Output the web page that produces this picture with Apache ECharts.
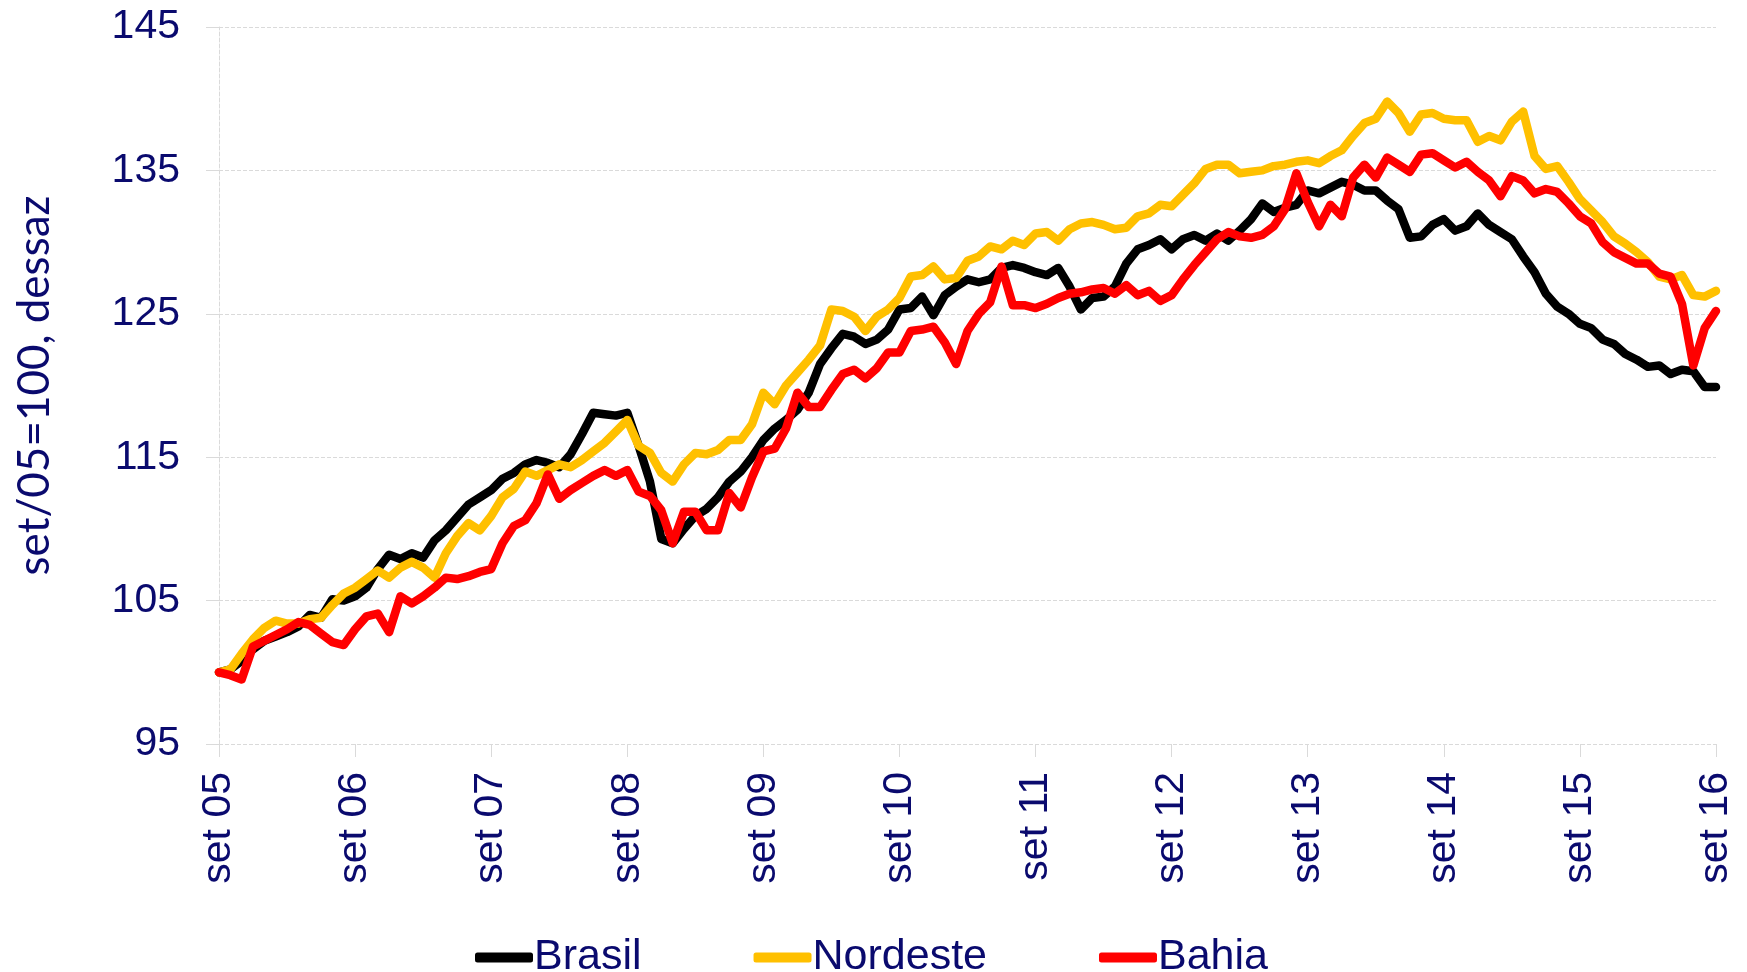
<!DOCTYPE html>
<html>
<head>
<meta charset="utf-8">
<title>Brasil, Nordeste, Bahia</title>
<script src="https://cdn.jsdelivr.net/npm/echarts@6/dist/echarts.min.js"></script>
<style>
  html, body { margin: 0; padding: 0; background: #fff; }
  #chart { width: 1747px; height: 972px; }
</style>
</head>
<body>
<div id="chart"></div>
<script>
// meses (pt) e série de set/05 a set/16
var MONTHS = ['jan', 'fev', 'mar', 'abr', 'mai', 'jun', 'jul', 'ago', 'set', 'out', 'nov', 'dez'];
var START_YEAR = 2005, START_MONTH = 8, N_POINTS = 133;

var Y_TICKS = [95, 105, 115, 125, 135, 145];

var brasil = [
  100.0, 100.2, 100.8, 101.6, 102.2, 102.5, 102.8, 103.2, 104.0, 103.8,
  105.1, 105.0, 105.3, 105.9, 107.2, 108.2, 107.9, 108.3, 108.0, 109.2,
  109.9, 110.8, 111.7, 112.2, 112.7, 113.5, 113.9, 114.5, 114.8, 114.6,
  114.3, 115.2, 116.6, 118.1, 118.0, 117.9, 118.1, 115.8, 113.3, 109.3,
  109.0, 110.0, 110.9, 111.4, 112.2, 113.3, 114.0, 115.0, 116.2, 117.0,
  117.6, 118.3, 119.5, 121.5, 122.6, 123.6, 123.4, 122.9, 123.2, 123.9,
  125.3, 125.4, 126.2, 124.9, 126.3, 126.9, 127.4, 127.2, 127.4, 128.2,
  128.4, 128.2, 127.9, 127.7, 128.2, 126.9, 125.3, 126.1, 126.2, 126.9,
  128.5, 129.5, 129.8, 130.2, 129.5, 130.2, 130.5, 130.1, 130.6, 130.1,
  130.8, 131.6, 132.7, 132.1, 132.4, 132.6, 133.6, 133.4, 133.8, 134.2,
  134.0, 133.6, 133.6, 132.9, 132.3, 130.3, 130.4, 131.2, 131.6, 130.8,
  131.1, 132.0, 131.2, 130.7, 130.2, 129.0, 127.9, 126.4, 125.5, 125.0,
  124.3, 124.0, 123.2, 122.9, 122.2, 121.8, 121.3, 121.4, 120.8, 121.1,
  121.0, 119.9, 119.9
];

var nordeste = [
  100.0, 100.2, 101.3, 102.3, 103.1, 103.6, 103.4, 103.4, 103.7, 103.8,
  104.7, 105.5, 105.9, 106.5, 107.1, 106.6, 107.3, 107.7, 107.3, 106.6,
  108.3, 109.5, 110.4, 109.9, 110.9, 112.2, 112.8, 114.0, 113.7, 114.1,
  114.5, 114.3, 114.8, 115.4, 116.0, 116.8, 117.6, 115.8, 115.3, 113.9,
  113.3, 114.5, 115.3, 115.2, 115.5, 116.2, 116.2, 117.3, 119.5, 118.7,
  120.0, 120.9, 121.8, 122.8, 125.3, 125.2, 124.8, 123.8, 124.8, 125.3,
  126.1, 127.6, 127.7, 128.3, 127.4, 127.5, 128.7, 129.0, 129.7, 129.5,
  130.1, 129.8, 130.6, 130.7, 130.1, 130.9, 131.3, 131.4, 131.2, 130.9,
  131.0, 131.8, 132.0, 132.6, 132.5, 133.3, 134.1, 135.1, 135.4, 135.4,
  134.8, 134.9, 135.0, 135.3, 135.4, 135.6, 135.7, 135.5, 136.0, 136.4,
  137.4, 138.3, 138.6, 139.8, 139.0, 137.7, 138.9, 139.0, 138.6, 138.5,
  138.5, 137.0, 137.4, 137.1, 138.4, 139.1, 136.0, 135.1, 135.3, 134.2,
  133.0, 132.2, 131.4, 130.4, 129.9, 129.3, 128.6, 127.6, 127.4, 127.7,
  126.3, 126.2, 126.6
];

var bahia = [
  100.0, 99.8, 99.5, 101.8, 102.2, 102.6, 103.0, 103.5, 103.3, 102.7,
  102.1, 101.9, 103.0, 103.9, 104.1, 102.8, 105.3, 104.8, 105.3, 105.9,
  106.6, 106.5, 106.7, 107.0, 107.2, 109.0, 110.2, 110.6, 111.8, 113.8,
  112.1, 112.7, 113.2, 113.7, 114.1, 113.7, 114.1, 112.6, 112.3, 111.3,
  109.0, 111.2, 111.2, 109.9, 109.9, 112.5, 111.5, 113.6, 115.4, 115.6,
  117.0, 119.5, 118.5, 118.5, 119.7, 120.8, 121.1, 120.5, 121.2, 122.3,
  122.3, 123.8, 123.9, 124.1, 123.0, 121.5, 123.8, 125.0, 125.8, 128.3,
  125.6, 125.6, 125.4, 125.7, 126.1, 126.4, 126.5, 126.7, 126.8, 126.4,
  127.0, 126.3, 126.6, 125.9, 126.3, 127.4, 128.4, 129.3, 130.2, 130.7,
  130.4, 130.3, 130.5, 131.1, 132.3, 134.8, 132.8, 131.1, 132.6, 131.8,
  134.5, 135.4, 134.5, 135.9, 135.4, 134.9, 136.1, 136.2, 135.7, 135.2,
  135.6, 134.9, 134.3, 133.2, 134.6, 134.3, 133.4, 133.7, 133.5, 132.7,
  131.8, 131.3, 130.0, 129.3, 128.9, 128.5, 128.5, 127.8, 127.6, 125.7,
  121.4, 124.0, 125.2
];

var categories = [];
for (var k = 0; k < N_POINTS; k++) {
  var m = (START_MONTH + k) % 12;
  var y = START_YEAR + Math.floor((START_MONTH + k) / 12);
  categories.push(MONTHS[m] + ' ' + String(y).slice(2));
}

var NAVY = '#0a0a6e';
var GRID_COLOR = '#dadada';

function every_year(idx) {
  return idx % 12 === 0;
}

function make_series(name, data, color) {
  return {
    name: name,
    type: 'line',
    data: data,
    showSymbol: false,
    symbol: 'none',
    lineStyle: { color: color, width: 8.5, cap: 'round', join: 'round' },
    itemStyle: { color: color }
  };
}

var chart = echarts.init(document.getElementById('chart'));
var option = {
  animation: false,
  backgroundColor: '#fff',
  color: ['#000000', '#ffc000', '#ff0000'],
  grid: { left: 219, right: 31, top: 27, bottom: 228, containLabel: false },
  legend: {
    left: 470,
    top: 931,
    itemGap: 112,
    itemWidth: 58,
    itemHeight: 10,
    icon: 'roundRect',
    textStyle: {
      color: NAVY,
      fontFamily: 'Liberation Sans',
      fontSize: 43,
      lineHeight: 43,
      padding: [0, 0, 0, -4]
    },
    data: ['Brasil', 'Nordeste', 'Bahia']
  },
  xAxis: {
    type: 'category',
    data: categories,
    boundaryGap: false,
    axisLine: { show: false },
    axisTick: { show: true, interval: every_year, length: 13, lineStyle: { color: GRID_COLOR } },
    axisLabel: {
      interval: every_year,
      rotate: 90,
      margin: 28,
      color: NAVY,
      fontFamily: 'Liberation Sans',
      fontSize: 41
    },
    splitLine: { show: false }
  },
  yAxis: {
    type: 'value',
    min: Y_TICKS[0],
    max: Y_TICKS[Y_TICKS.length - 1],
    interval: 10,
    name: 'set/05=100, dessaz',
    nameLocation: 'middle',
    nameGap: 162,
    nameTextStyle: { color: NAVY, fontFamily: 'Lato', fontSize: 44 },
    axisLine: { show: true, lineStyle: { color: GRID_COLOR, type: 'dashed', width: 1 } },
    axisTick: { show: true, length: 13, lineStyle: { color: GRID_COLOR } },
    axisLabel: {
      margin: 39,
      color: NAVY,
      fontFamily: 'Liberation Sans',
      fontSize: 41
    },
    splitLine: { show: true, lineStyle: { color: GRID_COLOR, type: 'dashed', width: 1 } }
  },
  series: [
    make_series('Brasil', brasil, '#000000'),
    make_series('Nordeste', nordeste, '#ffc000'),
    make_series('Bahia', bahia, '#ff0000')
  ]
};
chart.setOption(option);
</script>
</body>
</html>
